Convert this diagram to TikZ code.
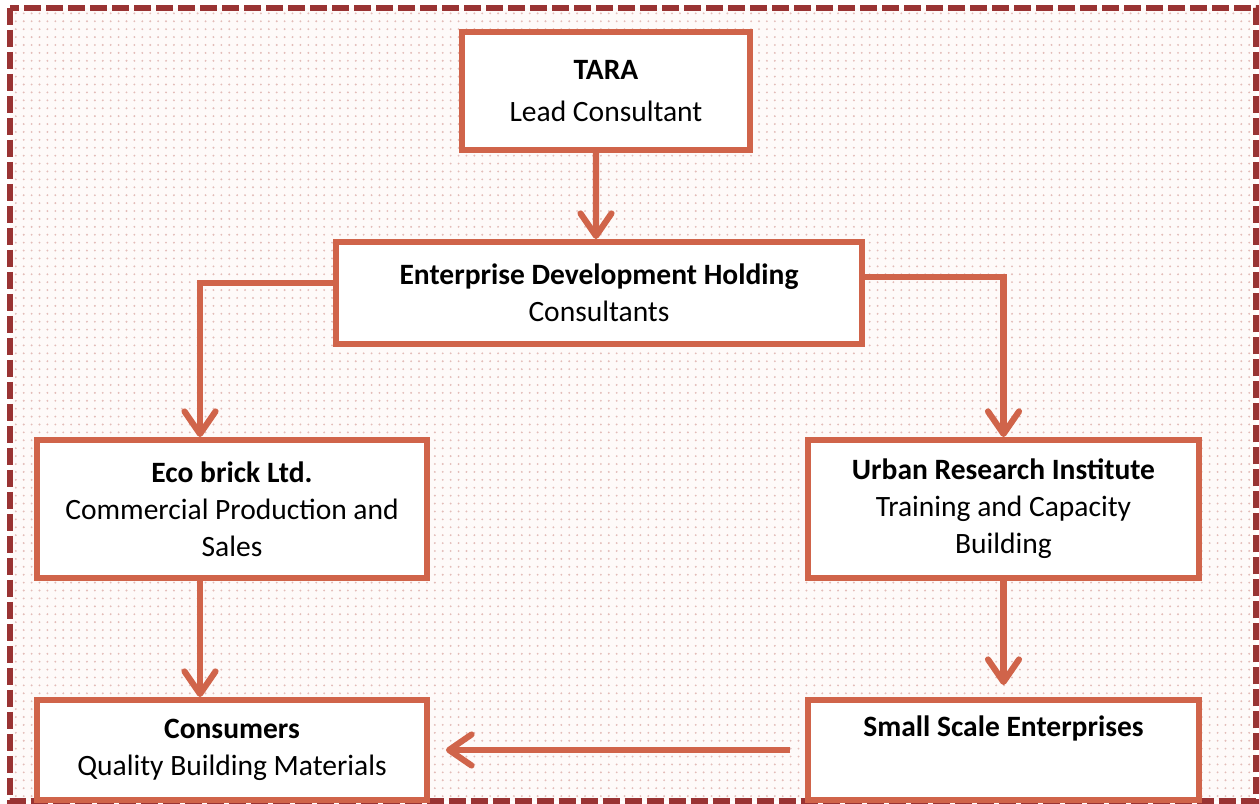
\documentclass[tikz,border=0pt]{standalone}
\usepackage{fontspec}
\setmainfont{Carlito}
\usetikzlibrary{arrows.meta,patterns}
\definecolor{boxred}{HTML}{D0644A}
\definecolor{frame}{HTML}{993333}
\definecolor{dotpink}{HTML}{E3BCB8}
\definecolor{paper}{HTML}{FEFAF9}
% small dot grid for the background
\pgfdeclarepatternformonly{pinkdots}{\pgfqpoint{-1pt}{-1pt}}{\pgfqpoint{1pt}{1pt}}{\pgfqpoint{4.5pt}{4.5pt}}
{
  \pgfpathcircle{\pgfpointorigin}{0.6pt}
  \pgfusepath{fill}
}
\tikzstyle{box}=[draw=boxred,line width=3.4pt,fill=white,align=center,inner sep=0pt,
                 font=\fontsize{16.8}{21}\selectfont]
\tikzstyle{flow}=[draw=boxred,line width=3.5pt,
                  -{Straight Barb[length=0.45cm,width=0.62cm,round]}]

\begin{document}
\begin{tikzpicture}[x=0.02cm,y=-0.02cm]
  \useasboundingbox (0,0) rectangle (1259,804);
  % dotted backdrop and dashed frame
  \fill[paper] (10,8) rectangle (1256,801);
  \fill[pattern=pinkdots,pattern color=dotpink] (10,8) rectangle (1256,801);
  \draw[frame,line width=2.9pt,dash pattern=on 0.34cm off 0.1cm] (10,8) rectangle (1256,801);

  \node[box,minimum width=5.76cm,minimum height=2.36cm] (tara) at (606,91)
       {\textbf{TARA}\\[3pt]Lead Consultant};
  \node[box,minimum width=10.52cm,minimum height=2.04cm] (edh) at (599,293)
       {\textbf{Enterprise Development Holding}\\Consultants};
  \node[box,minimum width=7.8cm,minimum height=2.76cm] (ecobrick) at (232,509)
       {\textbf{Eco brick Ltd.}\\Commercial Production and\\Sales};
  \node[box,minimum width=7.82cm,minimum height=2.76cm] (uri) at (1003.5,509)
       {\textbf{Urban Research Institute}\\Training and Capacity\\Building};
  \node[box,minimum width=7.8cm,minimum height=2.0cm] (consumers) at (232,750)
       {\textbf{Consumers}\\Quality Building Materials};
  \node[box,minimum width=7.82cm,minimum height=2.0cm] (sse) at (1003.5,750)
       {\textbf{Small Scale Enterprises}\\\strut};

  \draw[flow] ([xshift=-0.2cm]tara.south) -- ([xshift=-0.06cm]edh.north);
  \draw[flow] ([yshift=0.2cm]edh.west) -| ([xshift=-0.64cm]ecobrick.north);
  \draw[flow] ([yshift=0.32cm]edh.east) -| (uri.north);
  \draw[flow] ([xshift=-0.64cm]ecobrick.south) -- ([xshift=-0.64cm]consumers.north);
  \draw[flow,shorten >=0.24cm] (uri) -- (sse);
  \draw[flow,shorten <=0.3cm,shorten >=0.32cm] (sse) -- (consumers);
\end{tikzpicture}
\end{document}
